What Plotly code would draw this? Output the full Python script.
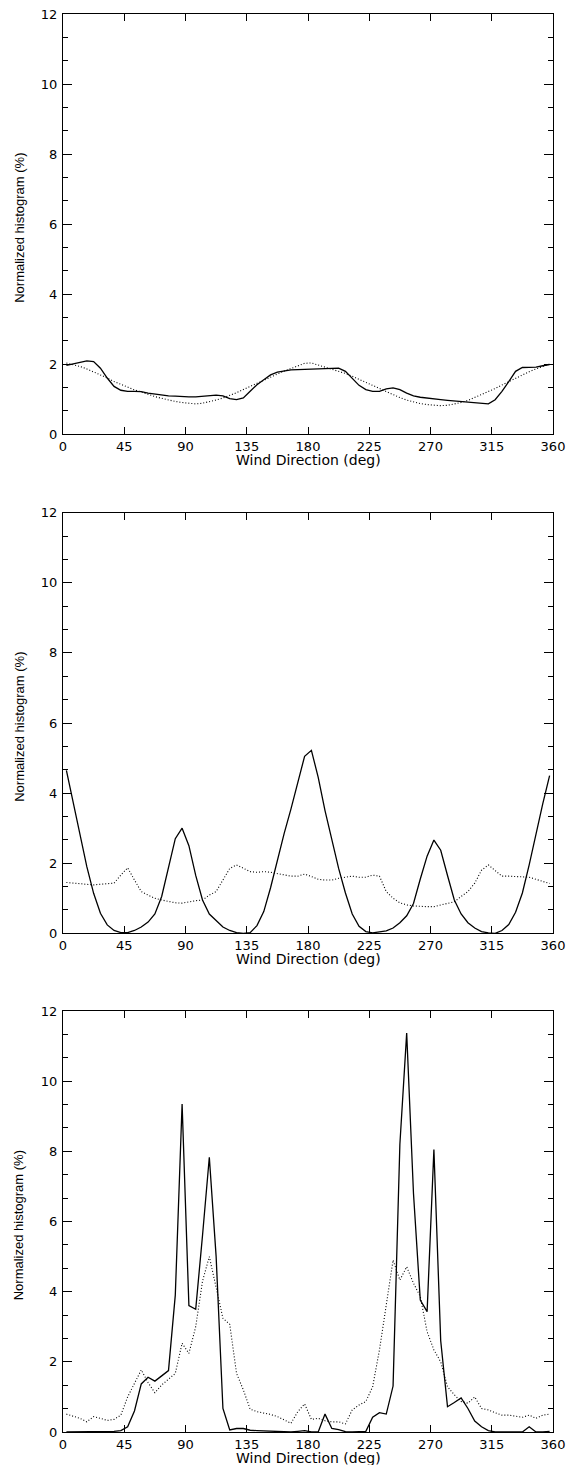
import plotly.graph_objects as go

# Bin centres (deg)
wind_dir = [2.5 + 5 * i for i in range(72)]

# Panel 1
p1_solid = [1.96, 2.01, 2.06, 2.09, 2.07, 1.88, 1.60, 1.36, 1.25, 1.22, 1.22, 1.21,
            1.17, 1.14, 1.11, 1.09, 1.08, 1.06, 1.06, 1.06, 1.08, 1.09, 1.11, 1.09,
            1.01, 0.98, 1.03, 1.22, 1.41, 1.55, 1.69, 1.77, 1.81, 1.83, 1.84, 1.85,
            1.85, 1.86, 1.87, 1.88, 1.88, 1.79, 1.60, 1.39, 1.27, 1.22, 1.22, 1.29,
            1.32, 1.27, 1.17, 1.09, 1.05, 1.02, 1.00, 0.98, 0.96, 0.94, 0.92, 0.90,
            0.89, 0.86, 0.86, 0.98, 1.22, 1.50, 1.79, 1.90, 1.90, 1.91, 1.95, 1.98]
p1_dotted = [2.03, 1.99, 1.93, 1.86, 1.78, 1.70, 1.60, 1.50, 1.42, 1.33, 1.26, 1.20,
             1.13, 1.07, 1.02, 0.97, 0.93, 0.90, 0.87, 0.86, 0.88, 0.92, 0.97, 1.03,
             1.10, 1.18, 1.27, 1.36, 1.45, 1.55, 1.64, 1.72, 1.80, 1.87, 1.95, 2.02,
             2.03, 1.97, 1.90, 1.85, 1.80, 1.73, 1.65, 1.56, 1.47, 1.38, 1.29, 1.20,
             1.11, 1.04, 0.97, 0.91, 0.87, 0.84, 0.82, 0.81, 0.82, 0.85, 0.90, 0.96,
             1.04, 1.12, 1.20, 1.30, 1.40, 1.50, 1.60, 1.70, 1.78, 1.86, 1.93, 2.00]

# Panel 2
p2_solid = [4.65, 3.75, 2.75, 1.90, 1.14, 0.57, 0.24, 0.08, 0.02, 0.02, 0.08, 0.18,
            0.32, 0.55, 1.05, 1.85, 2.70, 3.00, 2.50, 1.65, 0.95, 0.55, 0.35, 0.18,
            0.08, 0.02, 0.00, 0.02, 0.22, 0.62, 1.30, 2.10, 2.85, 3.55, 4.30, 5.05,
            5.22, 4.45, 3.50, 2.65, 1.85, 1.15, 0.55, 0.20, 0.05, 0.01, 0.03, 0.07,
            0.15, 0.30, 0.50, 0.85, 1.55, 2.20, 2.66, 2.37, 1.65, 0.95, 0.55, 0.30,
            0.15, 0.05, 0.01, 0.00, 0.08, 0.25, 0.60, 1.15, 1.95, 2.85, 3.70, 4.50]
p2_dotted = [1.45, 1.43, 1.42, 1.41, 1.38, 1.40, 1.42, 1.43, 1.66, 1.87, 1.52, 1.19,
             1.09, 1.00, 0.95, 0.90, 0.87, 0.86, 0.90, 0.93, 0.95, 1.09, 1.19, 1.52,
             1.85, 1.95, 1.85, 1.76, 1.74, 1.76, 1.74, 1.71, 1.66, 1.63, 1.63, 1.69,
             1.62, 1.54, 1.52, 1.52, 1.57, 1.60, 1.63, 1.60, 1.60, 1.66, 1.63, 1.19,
             1.00, 0.87, 0.81, 0.78, 0.76, 0.76, 0.76, 0.80, 0.86, 0.90, 1.05, 1.19,
             1.43, 1.80, 1.95, 1.80, 1.63, 1.63, 1.62, 1.62, 1.60, 1.54, 1.49, 1.42]

# Panel 3
p3_solid = [0.00, 0.00, 0.00, 0.00, 0.00, 0.00, 0.01, 0.02, 0.04, 0.15, 0.60, 1.37,
            1.56, 1.45, 1.60, 1.75, 3.90, 9.35, 3.60, 3.50, 5.60, 7.83, 5.00, 0.67,
            0.06, 0.10, 0.10, 0.05, 0.04, 0.03, 0.01, 0.00, 0.00, 0.00, 0.02, 0.04,
            0.00, 0.00, 0.51, 0.10, 0.07, 0.01, 0.00, 0.00, 0.02, 0.42, 0.55, 0.51,
            1.31, 8.20, 11.37, 6.80, 3.76, 3.43, 8.05, 2.60, 0.72, 0.84, 0.97, 0.67,
            0.31, 0.15, 0.04, 0.00, 0.00, 0.00, 0.00, 0.00, 0.15, 0.00, 0.00, 0.02]
p3_dotted = [0.51, 0.46, 0.39, 0.29, 0.44, 0.39, 0.33, 0.36, 0.48, 1.00, 1.39, 1.77,
             1.41, 1.12, 1.34, 1.50, 1.67, 2.53, 2.24, 3.00, 4.30, 5.00, 4.10, 3.24,
             3.07, 1.67, 1.20, 0.65, 0.58, 0.55, 0.50, 0.44, 0.34, 0.25, 0.58, 0.80,
             0.36, 0.39, 0.32, 0.29, 0.29, 0.23, 0.63, 0.77, 0.87, 1.29, 2.34, 3.57,
             4.90, 4.33, 4.71, 4.24, 3.86, 2.86, 2.34, 2.00, 1.29, 1.06, 0.87, 0.82,
             1.00, 0.67, 0.63, 0.55, 0.48, 0.48, 0.44, 0.42, 0.48, 0.39, 0.48, 0.51]

x_tickvals = [0, 45, 90, 135, 180, 225, 270, 315, 360]
y_tickvals = [0, 2, 4, 6, 8, 10, 12]
x_title = "Wind Direction (deg)"
y_title = "Normalized histogram (%)"

panels = [(p1_solid, p1_dotted), (p2_solid, p2_dotted), (p3_solid, p3_dotted)]
domains = [[0.7038, 1.0], [0.3517, 0.6483], [0.0, 0.2969]]

W, H = 570, 1465
ML, MR, MT, MB = 62.7, 16.6, 14, 33

fig = go.Figure()
tickfont = dict(family="DejaVu Sans", size=13, color="black")

for i, (solid, dotted) in enumerate(panels):
    n = "" if i == 0 else str(i + 1)
    xa, ya = "x" + n, "y" + n
    fig.add_trace(go.Scatter(x=wind_dir, y=dotted, mode="lines", xaxis=xa, yaxis=ya,
                             line=dict(color="black", width=1.1, dash="1px,2px"),
                             showlegend=False))
    fig.add_trace(go.Scatter(x=wind_dir, y=solid, mode="lines", xaxis=xa, yaxis=ya,
                             line=dict(color="black", width=1.3),
                             showlegend=False))
    fig.layout["xaxis" + n] = dict(
        domain=[0, 1], anchor=ya, range=[0, 360], tickmode="array",
        tickvals=x_tickvals, ticktext=[str(v) for v in x_tickvals],
        ticks="inside", ticklen=7, tickwidth=1, tickcolor="black",
        showline=True, linecolor="black", linewidth=1, mirror="ticks",
        showgrid=False, zeroline=False, tickfont=tickfont, automargin=False,
    )
    fig.layout["yaxis" + n] = dict(
        domain=domains[i], anchor=xa, range=[0, 12], tickmode="array",
        tickvals=y_tickvals, ticktext=[str(v) for v in y_tickvals],
        ticks="inside", ticklen=9, tickwidth=1, tickcolor="black",
        minor=dict(dtick=2 / 3, tick0=0, ticks="inside", ticklen=5, tickwidth=1,
                   tickcolor="black", showgrid=False),
        showline=True, linecolor="black", linewidth=1, mirror="ticks",
        showgrid=False, zeroline=False, tickfont=tickfont, automargin=False,
        ticklabelstandoff=2,
    )
    fig.add_annotation(text=x_title, xref=xa + " domain", yref=ya + " domain",
                       x=0.5, y=0, yshift=-26, showarrow=False,
                       xanchor="center", yanchor="middle",
                       font=dict(family="DejaVu Sans", size=14, color="black"))
    fig.add_annotation(text=y_title, xref="paper", yref=ya + " domain",
                       x=0, xshift=-44.2, y=0.5, yshift=-4, textangle=-90,
                       showarrow=False, xanchor="center", yanchor="middle",
                       font=dict(family="Liberation Sans", size=13, color="black"))

fig.update_layout(template="none", width=W, height=H,
                  margin=dict(l=ML, r=MR, t=MT, b=MB, autoexpand=False),
                  paper_bgcolor="white", plot_bgcolor="white")

fig.write_html("out.html", config={"displayModeBar": False},
               post_script="document.body.style.margin='0px';"
                           "document.body.style.overflow='hidden';")
